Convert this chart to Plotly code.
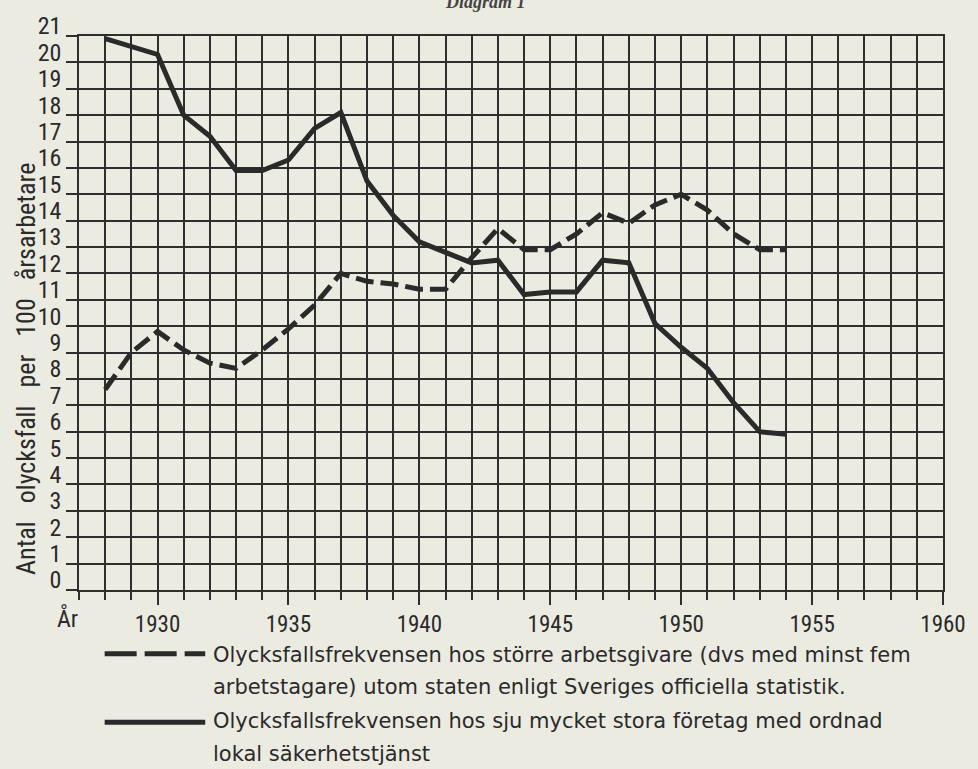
import plotly.graph_objects as go

# ---- data ----
years_dashed = [1928, 1929, 1930, 1931, 1932, 1933, 1934, 1935, 1936, 1937, 1938, 1939,
                1940, 1941, 1942, 1943, 1944, 1945, 1946, 1947, 1948, 1949, 1950, 1951,
                1952, 1953, 1954]
dashed_values = [7.6, 9.0, 9.8, 9.1, 8.6, 8.4, 9.1, 9.9, 10.8, 12.0, 11.7, 11.6,
                 11.4, 11.4, 12.6, 13.7, 12.9, 12.9, 13.5, 14.3, 13.9, 14.6, 15.0, 14.4,
                 13.5, 12.9, 12.9]

years_solid = [1928, 1929, 1930, 1931, 1932, 1933, 1934, 1935, 1936, 1937, 1938, 1939,
               1940, 1941, 1942, 1943, 1944, 1945, 1946, 1947, 1948, 1949, 1950, 1951,
               1952, 1953, 1954]
solid_values = [20.9, 20.6, 20.3, 18.0, 17.2, 15.9, 15.9, 16.3, 17.5, 18.1, 15.5, 14.2,
                13.2, 12.8, 12.4, 12.5, 11.2, 11.3, 11.3, 12.5, 12.4, 10.1, 9.2, 8.4,
                7.1, 6.0, 5.9]

SP = "&nbsp;&nbsp;&nbsp;"
y_title = SP.join(["Antal", "olycksfall", "per", "100", "årsarbetare"])
legend_dashed = ["Olycksfallsfrekvensen hos större arbetsgivare (dvs med minst fem",
                 "arbetstagare) utom staten enligt Sveriges officiella statistik."]
legend_solid = ["Olycksfallsfrekvensen hos sju mycket stora företag med ordnad",
                "lokal säkerhetstjänst"]
chart_title = "Diagram 1"

# ---- styling ----
W, H = 978, 769
L, R, T, B = 79, 23, 33, 179
pw, ph = W - L - R, H - T - B
INK = "#2a2a2a"
GRID = "#2e2e2e"
PAPER = "#ecebe2"
NARROW = "Liberation Sans Narrow, Roboto Condensed, Roboto, sans-serif"
TEXTFONT = "DejaVu Sans, sans-serif"


def px_x(x):
    return (x - L) / pw


def px_y(y):
    return (T + ph - y) / ph


fig = go.Figure()
fig.add_trace(go.Scatter(x=years_dashed, y=dashed_values, mode="lines",
                         line=dict(color=INK, width=5, dash="18px,7px"),
                         showlegend=False, hoverinfo="skip"))
fig.add_trace(go.Scatter(x=years_solid, y=solid_values, mode="lines",
                         line=dict(color=INK, width=5),
                         showlegend=False, hoverinfo="skip"))

fig.update_layout(
    width=W, height=H,
    margin=dict(l=L, r=R, t=T, b=B, pad=0),
    paper_bgcolor=PAPER, plot_bgcolor=PAPER,
    showlegend=False,
    xaxis=dict(range=[1927, 1960], tick0=1930, dtick=5, showgrid=True,
               gridcolor=GRID, gridwidth=1.6, ticks="outside", ticklen=13,
               tickwidth=1.6, tickcolor=GRID, showline=True, linecolor=GRID,
               linewidth=1.6, mirror=True, zeroline=False,
               ticklabeloverflow="allow",
               tickfont=dict(family=NARROW, size=23, color=INK),
               minor=dict(tick0=1927, dtick=1, showgrid=True, gridcolor=GRID,
                          gridwidth=1.6, ticks="outside", ticklen=8,
                          tickwidth=1.6, tickcolor=GRID),
               fixedrange=True),
    yaxis=dict(range=[0, 21], tick0=0, dtick=1, showgrid=True, gridcolor=GRID,
               gridwidth=1.6, ticks="outside", ticklen=11, tickwidth=1.6,
               tickcolor=GRID, showline=True, linecolor=GRID, linewidth=1.6,
               mirror=True, zeroline=False, ticklabelshift=-10,
               tickfont=dict(family=NARROW, size=24, color=INK),
               fixedrange=True),
)

annotations = [
    dict(text=y_title, xref="paper", yref="paper", x=px_x(25), y=px_y(368),
         textangle=-90, showarrow=False, xanchor="center", yanchor="middle",
         font=dict(family=NARROW, size=26, color=INK)),
    dict(text="År", xref="paper", yref="paper", x=px_x(67), y=px_y(619),
         showarrow=False, xanchor="center", yanchor="middle",
         font=dict(family=NARROW, size=24, color=INK)),
    dict(text="<b><i>" + chart_title + "</i></b>", xref="paper", yref="paper",
         x=px_x(491), y=px_y(-1), showarrow=False, xanchor="center",
         yanchor="middle", font=dict(family="Liberation Serif, serif", size=18,
                                     color="#444")),
]
for text, ypix in zip(legend_dashed + legend_solid, [655, 688, 722, 755]):
    annotations.append(dict(text=text, xref="paper", yref="paper", x=px_x(213),
                            y=px_y(ypix), showarrow=False, xanchor="left",
                            yanchor="middle",
                            font=dict(family=TEXTFONT, size=21, color=INK)))
fig.update_layout(annotations=annotations)

shapes = [
    dict(type="line", xref="paper", yref="paper", x0=px_x(105), x1=px_x(207),
         y0=px_y(654), y1=px_y(654), line=dict(color=INK, width=5, dash="32px,8px")),
    dict(type="line", xref="paper", yref="paper", x0=px_x(105), x1=px_x(207),
         y0=px_y(723), y1=px_y(723), line=dict(color=INK, width=5)),
]
fig.update_layout(shapes=shapes)

fig.write_html("out.html", config={"displayModeBar": False},
               post_script="document.body.style.margin='0';"
                           "document.body.style.overflow='hidden';")
